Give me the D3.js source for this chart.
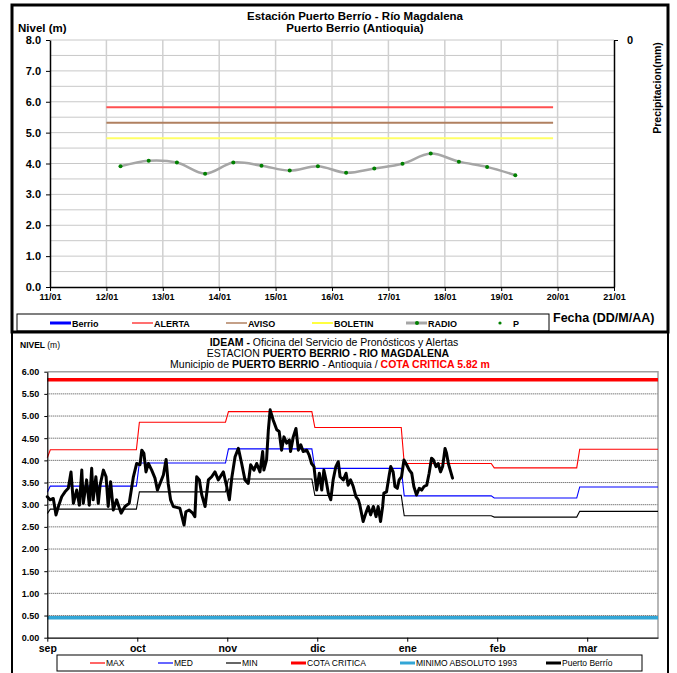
<!DOCTYPE html>
<html><head><meta charset="utf-8">
<script src="https://cdn.jsdelivr.net/npm/d3@7/dist/d3.min.js"></script>
<style>body{margin:0;background:#fff} svg{display:block}</style>
</head><body>
<svg id="c" width="677" height="673"></svg>
<script>
// ---------- TOP PANEL DATA ----------
const topDayTicks = [11,12,13,14,15,16,17,18,19,20,21];
const topLevelTicks = [0,1,2,3,4,5,6,7,8];
const precipTicks = [0];
const radioDays = [12.25,12.75,13.25,13.75,14.25,14.75,15.25,15.75,16.25,16.75,17.25,17.75,18.25,18.75,19.25];
const radioLevels = [3.91,4.09,4.03,3.67,4.03,3.93,3.77,3.91,3.70,3.84,3.99,4.32,4.06,3.89,3.62];
const thresholdNames = ["ALERTA","AVISO","BOLETIN"];
const thresholdLevels = [5.82,5.32,4.82];
const thresholdColors = ["#ff5050","#b08060","#ffff66"];
const thresholdSpan = [12.0,19.92];
const topLegendNames = ["Berrio","ALERTA","AVISO","BOLETIN","RADIO","P"];
const topLegendColors = ["#0000ff","#ff4040","#b08060","#ffff00","#a6a6a6","#008000"];

// ---------- BOTTOM PANEL DATA ----------
const monthLabels = ["sep","oct","nov","dic","ene","feb","mar"];
const monthTickDays = [0,30,60,90,120,150,180];
const bottomLevelTicks = [0,0.5,1,1.5,2,2.5,3,3.5,4,4.5,5,5.5,6];
const stepBounds = [0,29.7,59.4,88.2,118,148,176.5,203.6];
const maxStart = 4.06, medStart = 3.28, minStart = 2.80;
const maxLevels = [4.24,4.86,5.10,4.74,3.93,3.83,4.25];
const medLevels = [3.42,3.94,4.26,3.82,3.20,3.15,3.40];
const minLevels = [2.90,3.29,3.58,3.21,2.75,2.72,2.85];
const cotaCritica = 5.82;
const minimoAbsoluto = 0.45;
const pbDays = [0,0.9,2.0,2.9,3.7,4.8,5.9,7.0,7.9,8.7,9.8,10.7,11.5,12.0,13.1,14.0,14.8,15.3,16.2,17.0,17.6,18.7,19.6,20.3,21.1,22.0,23.1,24.6,25.9,27.3,28.7,29.8,30.9,31.5,32.2,32.9,33.7,34.8,35.9,36.7,37.6,38.7,39.6,40.3,41.1,42.0,43.1,44.2,45.6,46.2,47.3,48.5,49.2,49.8,50.7,51.5,52.6,53.7,54.8,55.9,57.0,58.7,59.8,60.7,61.5,62.6,63.7,64.8,65.9,67.0,67.8,68.9,69.8,70.9,71.8,72.2,73.1,73.7,74.3,75.3,76.5,77.3,78.1,78.9,79.8,80.7,81.1,82.0,82.9,83.7,84.5,85.3,86.5,87.3,88.1,88.9,89.8,90.7,91.5,92.2,92.9,93.7,94.5,95.3,96.2,97.0,97.6,98.7,99.6,100.3,101.1,102.0,102.9,103.7,104.2,105.3,106.2,107.0,107.8,108.7,109.6,110.3,111.1,111.8,112.2,113.1,114.0,114.5,115.3,115.9,116.7,117.3,118.1,118.9,119.8,120.7,121.5,122.2,123.1,124.0,124.8,125.6,126.5,127.3,128.1,128.7,129.6,130.3,131.1,131.8,132.6,133.1,133.7,134.5,135.1];
const pbLevels = [3.18,3.11,3.14,2.77,2.96,3.18,3.29,3.37,3.74,3.03,3.33,2.99,3.78,3.03,3.56,2.99,3.82,3.11,3.63,3.03,3.44,3.78,3.63,2.96,3.52,2.88,3.11,2.81,2.96,3.03,3.63,3.93,3.90,4.23,4.16,3.74,3.93,3.78,3.60,3.33,3.48,3.67,4.02,3.48,3.11,2.96,2.94,2.92,2.54,2.84,2.88,2.81,2.73,3.63,3.56,3.22,2.96,3.56,3.63,3.74,3.56,3.74,3.41,3.11,3.60,4.08,4.27,3.93,3.56,3.48,3.90,3.78,3.93,3.74,4.20,3.78,4.01,4.69,5.14,4.91,4.69,4.65,4.23,4.53,4.39,4.46,4.20,4.53,4.72,4.23,4.35,4.20,4.23,4.12,3.93,3.86,3.33,3.71,3.33,3.78,3.56,3.26,3.11,3.56,3.86,3.97,3.63,3.56,3.71,3.44,3.56,3.41,3.18,3.11,2.99,2.62,2.81,2.96,2.77,2.96,2.73,2.96,2.62,2.96,3.26,3.29,3.67,3.86,3.74,3.41,3.37,3.56,3.63,4.01,3.90,3.78,3.71,3.41,3.22,3.37,3.33,3.41,3.44,3.71,4.05,4.01,3.86,3.93,3.74,3.86,4.27,4.16,3.93,3.74,3.60];
const bottomLegendNames = ["MAX","MED","MIN","COTA CRITICA","MINIMO ABSOLUTO 1993","Puerto Berrío"];
const bottomLegendColors = ["#ff0000","#0000ff","#000000","#ff0000","#33a6d6","#000000"];

const svg = d3.select("#c");
svg.append("rect").attr("width",677).attr("height",673).attr("fill","#fff");
const F = "'Liberation Sans', Arial, sans-serif";
const FN = "'Liberation Sans Narrow', 'Arial Narrow', 'Liberation Sans', Arial, sans-serif";

// =============== TOP PANEL ===============
const tx = d3.scaleLinear().domain([11,21]).range([50,614]);
const ty = d3.scaleLinear().domain([0,8]).range([287,40]);
const tp = d3.scaleLinear().domain([0,1]).range([40,287]);
const topG = svg.append("g");

topG.append("g").selectAll("line").data(d3.range(1,17).map(i=>i*0.5)).join("line")
  .attr("x1",tx(11)).attr("x2",tx(21)).attr("y1",d=>ty(d)).attr("y2",d=>ty(d))
  .attr("stroke","#c8c8c8").attr("stroke-width",1);
topG.append("g").selectAll("line").data(topDayTicks.slice(1,-1)).join("line")
  .attr("x1",d=>tx(d)).attr("x2",d=>tx(d)).attr("y1",ty(0)).attr("y2",ty(8))
  .attr("stroke","#d0d0d0").attr("stroke-width",1.5);

const tLeft = topG.append("g").attr("transform",`translate(${tx(11)},0)`)
  .call(d3.axisLeft(ty).tickValues(topLevelTicks).tickFormat(d3.format(".1f")).tickSize(4).tickSizeOuter(0));
const tBottom = topG.append("g").attr("transform",`translate(0,${ty(0)})`)
  .call(d3.axisBottom(tx).tickValues(topDayTicks).tickFormat(d=>d3.format("02")(d)+"/01").tickSize(4).tickSizeOuter(0));
const tRight = topG.append("g").attr("transform",`translate(${tx(21)},0)`)
  .call(d3.axisRight(tp).tickValues(precipTicks).tickFormat(d3.format("d")).tickSize(4).tickSizeOuter(0));
[tLeft,tBottom,tRight].forEach(g=>{
  g.select(".domain").attr("stroke","#000").attr("stroke-width",1.5);
  g.selectAll(".tick line").attr("stroke","#000");
  g.selectAll("text").attr("font-family",F).attr("font-weight","bold").attr("fill","#000");
});
tLeft.selectAll("text").attr("font-size",11).attr("x",-9);
tBottom.selectAll("text").attr("font-size",9).attr("y",7);
tRight.selectAll("text").attr("font-size",11).attr("x",13);

topG.append("g").selectAll("line").data(thresholdLevels).join("line")
  .attr("x1",tx(thresholdSpan[0])).attr("x2",tx(thresholdSpan[1]))
  .attr("y1",d=>ty(d)).attr("y2",d=>ty(d))
  .attr("stroke",(d,i)=>thresholdColors[i]).attr("stroke-width",2);

const radio = radioDays.map((d,i)=>[d,radioLevels[i]]);
topG.append("path").datum(radio)
  .attr("d",d3.line().x(d=>tx(d[0])).y(d=>ty(d[1])).curve(d3.curveCatmullRom.alpha(0.5)))
  .attr("fill","none").attr("stroke","#a6a6a6").attr("stroke-width",2.5);
topG.append("g").selectAll("circle").data(radio).join("circle")
  .attr("cx",d=>tx(d[0])).attr("cy",d=>ty(d[1])).attr("r",2).attr("fill","#008000");

topG.append("text").attr("x",355).attr("y",20).attr("text-anchor","middle")
  .attr("font-family",F).attr("font-weight","bold").attr("font-size",11.5).text("Estación Puerto Berrío - Río Magdalena");
topG.append("text").attr("x",355).attr("y",32).attr("text-anchor","middle")
  .attr("font-family",F).attr("font-weight","bold").attr("font-size",11.5).text("Puerto Berrio (Antioquia)");
topG.append("text").attr("x",18).attr("y",32)
  .attr("font-family",F).attr("font-weight","bold").attr("font-size",11.5).text("Nivel (m)");
topG.append("text").attr("transform","translate(661,88) rotate(-90)").attr("text-anchor","middle")
  .attr("font-family",F).attr("font-weight","bold").attr("font-size",10.5).text("Precipitacion(mm)");
topG.append("text").attr("x",553).attr("y",322)
  .attr("font-family",F).attr("font-weight","bold").attr("font-size",12.5).text("Fecha (DD/M/AA)");

topG.append("rect").attr("x",17).attr("y",314).attr("width",532).attr("height",17)
  .attr("fill","#fff").attr("stroke","#000").attr("stroke-width",1);
const tlx = [50,132,226,312,406,490];
const tleg = topG.append("g").selectAll("g").data(topLegendNames).join("g")
  .attr("transform",(d,i)=>`translate(${tlx[i]},323)`);
tleg.each(function(d,i){
  const g = d3.select(this);
  if (d !== "P") {
    g.append("line").attr("x1",0).attr("x2",21).attr("y1",0).attr("y2",0)
      .attr("stroke",topLegendColors[i]).attr("stroke-width", d==="Berrio"||d==="RADIO"?3:1.5);
  }
  if (d === "RADIO" ) g.append("circle").attr("cx",11).attr("cy",0).attr("r",2).attr("fill","#008000");
  if (d === "P") g.append("circle").attr("cx",10).attr("cy",0).attr("r",1.6).attr("fill","#008000");
  g.append("text").attr("x", d==="P"?23:22).attr("y",3.5)
    .attr("font-family",F).attr("font-weight","bold").attr("font-size",9).text(d);
});

svg.append("rect").attr("x",12).attr("y",5).attr("width",656).attr("height",327)
  .attr("fill","none").attr("stroke","#000").attr("stroke-width",3);

// =============== BOTTOM PANEL ===============
const bx = d3.scaleLinear().domain([0,203.6]).range([47.3,658]);
const by = d3.scaleLinear().domain([0,6]).range([637.7,371.7]);
const bot = svg.append("g");

bot.append("line").attr("x1",12).attr("x2",12).attr("y1",333).attr("y2",673).attr("stroke","#000").attr("stroke-width",2);
bot.append("line").attr("x1",668).attr("x2",668).attr("y1",333).attr("y2",673).attr("stroke","#000").attr("stroke-width",2);

bot.append("g").selectAll("line").data(bottomLevelTicks.filter(d=>d>0&&d<6)).join("line")
  .attr("x1",bx(0)).attr("x2",bx(203.6)).attr("y1",d=>by(d)).attr("y2",d=>by(d))
  .attr("stroke","#444").attr("stroke-width",1).attr("stroke-dasharray","1,1");
bot.append("path").attr("d",`M${bx(0)},${by(6)}H${bx(203.6)}V${by(0)}`)
  .attr("fill","none").attr("stroke","#a0a0a0").attr("stroke-width",1.5);

bot.append("line").attr("x1",bx(0)).attr("x2",bx(203.6)).attr("y1",by(minimoAbsoluto)).attr("y2",by(minimoAbsoluto))
  .attr("stroke","#33a6d6").attr("stroke-width",3.5);
bot.append("line").attr("x1",bx(0)).attr("x2",bx(203.6)).attr("y1",by(cotaCritica)).attr("y2",by(cotaCritica))
  .attr("stroke","#ff0000").attr("stroke-width",3.5);

function stepPoints(start, vals){
  const pts = [[stepBounds[0], start]];
  vals.forEach((v,i)=>{
    pts.push([stepBounds[i] + 1, v]);
    pts.push([stepBounds[i+1], v]);
  });
  return pts;
}
const stepLine = d3.line().x(d=>bx(d[0])).y(d=>by(d[1]));
[[minStart,minLevels,"#000"],[medStart,medLevels,"#0000ff"],[maxStart,maxLevels,"#ff0000"]].forEach(([s,v,c])=>{
  bot.append("path").datum(stepPoints(s,v)).attr("d",stepLine)
    .attr("fill","none").attr("stroke",c).attr("stroke-width",1.1);
});

const pb = pbDays.map((d,i)=>[d,pbLevels[i]]);
bot.append("path").datum(pb).attr("d",stepLine)
  .attr("fill","none").attr("stroke","#000").attr("stroke-width",3).attr("stroke-linejoin","round").attr("stroke-linecap","round");

const bLeft = bot.append("g").attr("transform",`translate(${bx(0)},0)`)
  .call(d3.axisLeft(by).tickValues(bottomLevelTicks).tickFormat(d3.format(".2f")).tickSize(3).tickSizeOuter(0));
const bBottom = bot.append("g").attr("transform",`translate(0,${by(0)})`)
  .call(d3.axisBottom(bx).tickValues(monthTickDays).tickFormat((d,i)=>monthLabels[i]).tickSize(4).tickSizeOuter(0));
[bLeft,bBottom].forEach(g=>{
  g.select(".domain").attr("stroke","#000").attr("stroke-width",1.2);
  g.selectAll(".tick line").attr("stroke","#000");
  g.selectAll("text").attr("font-family",F).attr("font-weight","bold").attr("fill","#000");
});
bLeft.selectAll("text").attr("font-size",9).attr("x",-8);
bBottom.selectAll("text").attr("font-size",10.5).attr("y",7);

const t1 = bot.append("text").attr("x",334).attr("y",346).attr("text-anchor","middle").attr("font-family",FN).attr("font-size",10.5);
t1.append("tspan").attr("font-weight","bold").text("IDEAM - ");
t1.append("tspan").text("Oficina del Servicio de Pronósticos y Alertas");
const t2 = bot.append("text").attr("x",328).attr("y",357).attr("text-anchor","middle").attr("font-family",FN).attr("font-size",10.5);
t2.append("tspan").text("ESTACION ");
t2.append("tspan").attr("font-weight","bold").text("PUERTO BERRIO  - RIO MAGDALENA");
const t3 = bot.append("text").attr("x",330).attr("y",368).attr("text-anchor","middle").attr("font-family",FN).attr("font-size",10.5);
t3.append("tspan").text("Municipio de ");
t3.append("tspan").attr("font-weight","bold").text("PUERTO BERRIO");
t3.append("tspan").text(" - Antioquia  /  ");
t3.append("tspan").attr("font-weight","bold").attr("fill","#ff0000").text("COTA CRITICA 5.82 m");
const nl = bot.append("text").attr("x",20).attr("y",348).attr("font-family",FN).attr("font-size",8.5);
nl.append("tspan").attr("font-weight","bold").text("NIVEL ");
nl.append("tspan").text("(m)");

bot.append("rect").attr("x",57).attr("y",655).attr("width",585).attr("height",16)
  .attr("fill","#fff").attr("stroke","#000").attr("stroke-width",1);
const blx = [90,158,226,291,400,546];
const bleg = bot.append("g").selectAll("g").data(bottomLegendNames).join("g")
  .attr("transform",(d,i)=>`translate(${blx[i]},663)`);
bleg.append("line").attr("x1",0).attr("x2",15).attr("y1",0).attr("y2",0)
  .attr("stroke",(d,i)=>bottomLegendColors[i]).attr("stroke-width",(d,i)=>i<3?1.2:3);
bleg.append("text").attr("x",16).attr("y",3).attr("font-family",FN).attr("font-size",8.5).text(d=>d);
</script>
</body></html>
